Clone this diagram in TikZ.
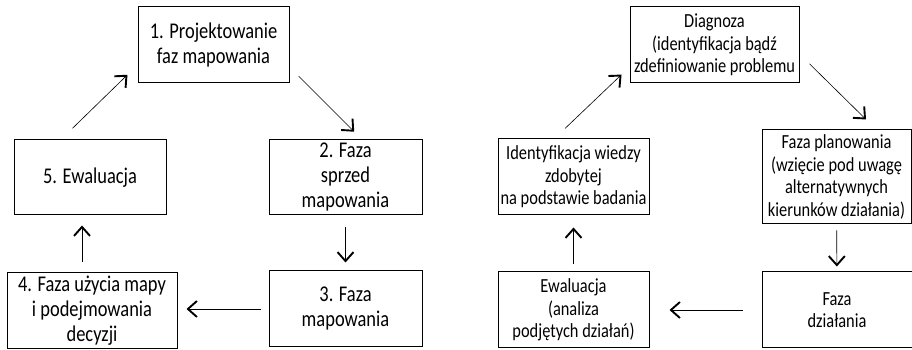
\documentclass[tikz,border=0pt]{standalone}
\usepackage{fontspec}
\setmainfont{Carlito}[FakeStretch=0.82]
\usetikzlibrary{arrows.meta}

\begin{document}
\begin{tikzpicture}[
  x=1pt, y=1pt,
  every node/.style={draw, line width=1pt, align=center, inner sep=0pt}, % plain boxes
  leftbox/.style={font=\fontsize{22.5}{25}\selectfont},
  rightbox/.style={font=\fontsize{20}{22.5}\selectfont},
  arr/.style={line width=0.6pt, -{Straight Barb[length=9pt,width=16pt,line width=1.9pt]}}
]
  \useasboundingbox (0,0) rectangle (912,350);

  % left cycle
  \node[leftbox, minimum width=151, minimum height=76] (b1) at (213.5,305) {1. Projektowanie\\faz mapowania};
  \node[leftbox, minimum width=153, minimum height=75] (b2) at (345.5,172.5) {2. Faza\\sprzed\\mapowania};
  \node[leftbox, minimum width=153, minimum height=76] (b3) at (345.5,41) {3. Faza\\mapowania};
  \node[leftbox, minimum width=170, minimum height=76] (b4) at (92,39) {4. Faza użycia mapy\\i podejmowania\\decyzji};
  \node[leftbox, minimum width=152, minimum height=75] (b5) at (90,172.5) {5. Ewaluacja};

  \draw[arr, shorten <=16pt, shorten >=14pt] ([xshift=-29pt]b5.north) -- ([yshift=-20pt]b1.west);
  \draw[arr, shorten <=13pt, shorten >=11pt] ([yshift=-22pt]b1.east) -- ([xshift=16.5pt]b2.north);
  \draw[arr, shorten <=12pt, shorten >=8pt] (b2) -- (b3);
  \draw[arr, shorten <=8pt, shorten >=9pt] (b3.west) -- (b3.west -| b4.east);
  \draw[arr, shorten <=10pt, shorten >=10pt] ([xshift=-10pt]b4.north) -- ([xshift=-10pt]b4.north |- b5.south);

  % right cycle
  \node[rightbox, minimum width=169, minimum height=76] (d1) at (714.5,305) {Diagnoza\\(identyfikacja bądź\\zdefiniowanie problemu};
  \node[rightbox, minimum width=149, minimum height=94] (d2) at (836.5,173) {Faza planowania\\(wzięcie pod uwagę\\alternatywnych\\kierunków działania)};
  \node[rightbox, minimum width=150, minimum height=76] (d3) at (837,40) {Faza\\działania};
  \node[rightbox, minimum width=151, minimum height=76] (d4) at (573.5,40) {Ewaluacja\\(analiza\\podjętych działań)};
  \node[rightbox, minimum width=151, minimum height=76] (d5) at (573.5,173) {Identyfikacja wiedzy\\zdobytej\\na podstawie badania};

  \draw[arr, shorten <=14.5pt, shorten >=11pt] ([xshift=-19pt]d5.north) -- ([yshift=-22pt]d1.west);
  \draw[arr, shorten <=14pt, shorten >=14.3pt] ([yshift=-9pt]d1.east) -- ([xshift=39.7pt]d2.north);
  \draw[arr, shorten <=6pt, shorten >=5pt] (d2) -- (d3);
  \draw[arr, shorten <=19pt, shorten >=20pt] (d3) -- (d4);
  \draw[arr, shorten <=7pt, shorten >=12pt] (d4) -- (d5);
\end{tikzpicture}
\end{document}
